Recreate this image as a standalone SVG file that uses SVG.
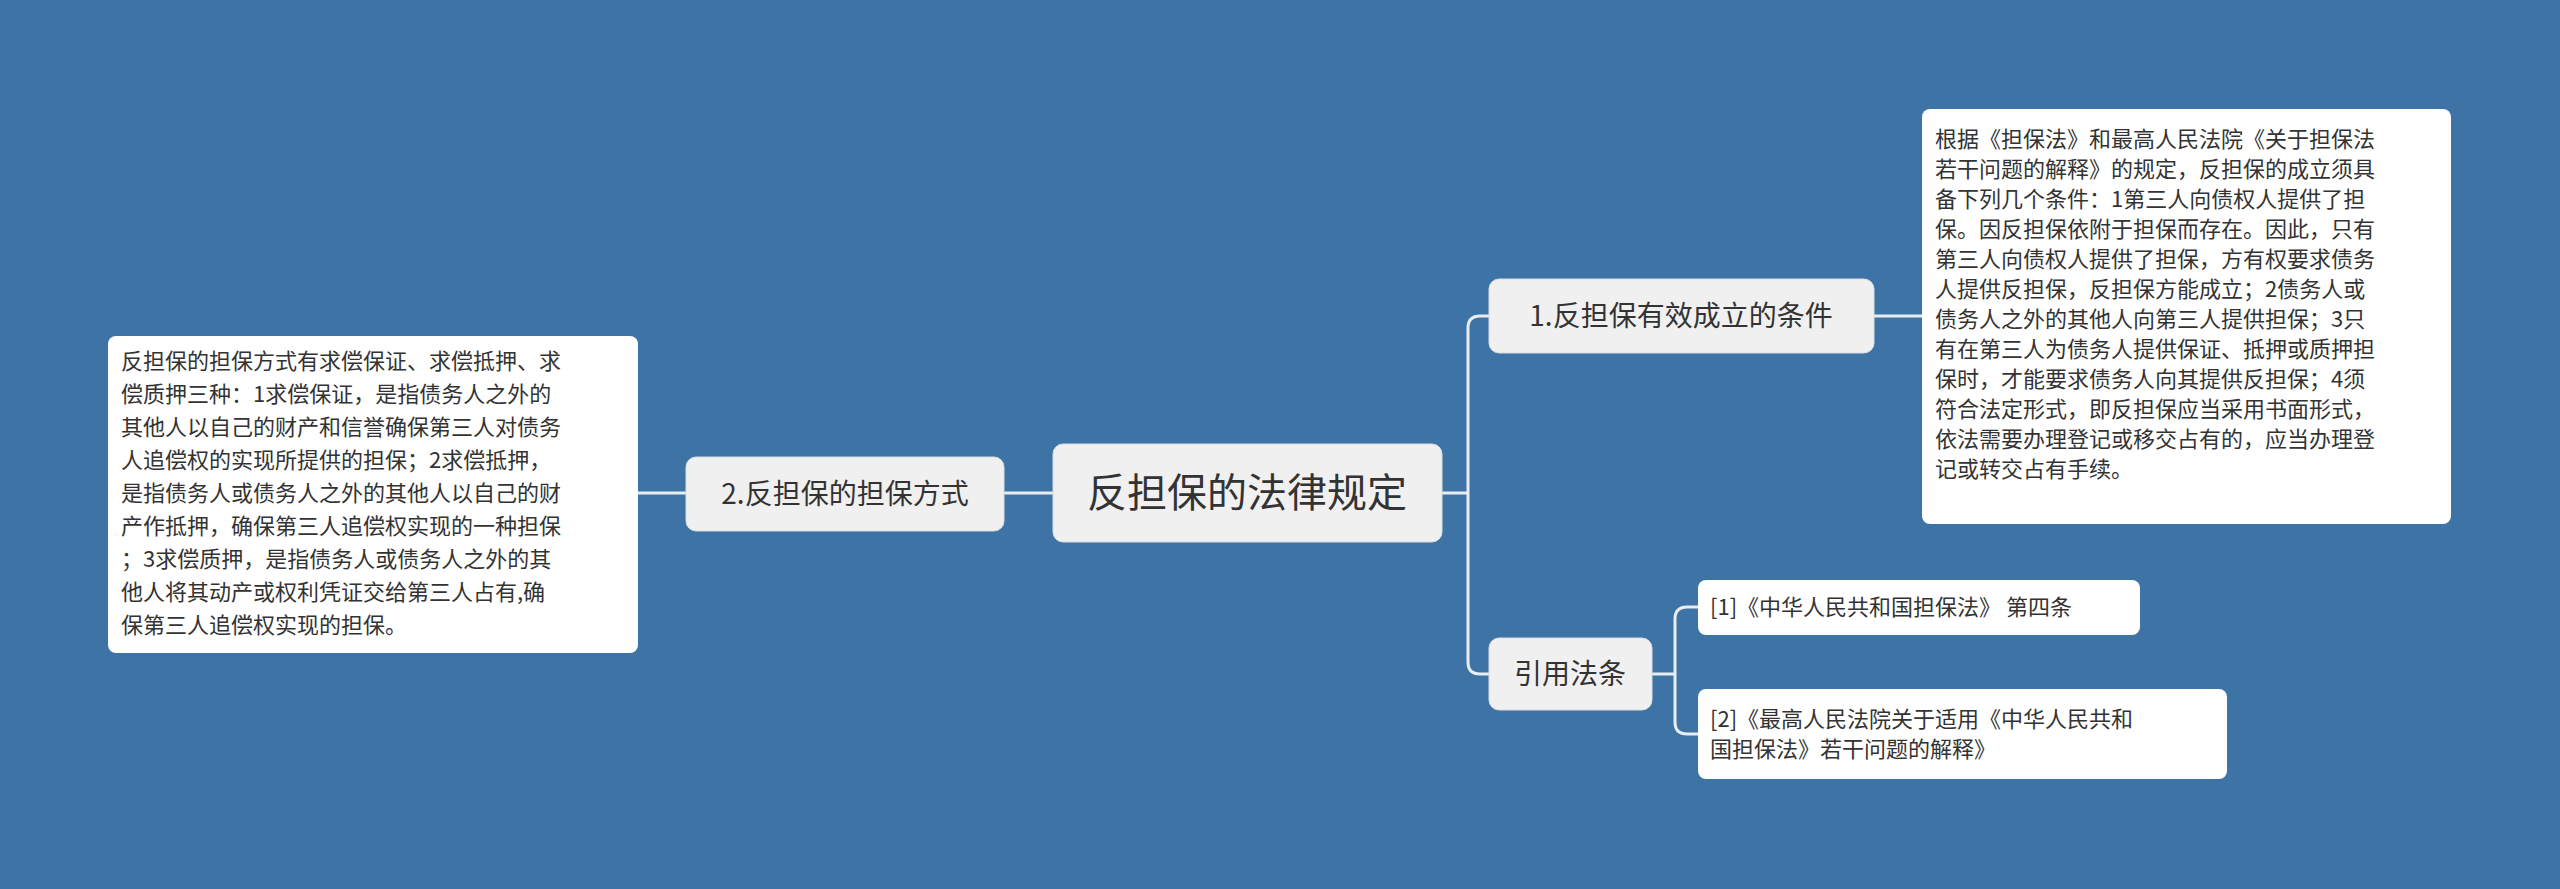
<svg xmlns="http://www.w3.org/2000/svg" width="2560" height="889" viewBox="0 0 2560 889">
<style>
text{font-family:"Noto Sans CJK SC","Noto Sans",sans-serif;fill:#333}
.n{fill:#f0f0f0;stroke:#d9dde2;stroke-width:1}
.l{fill:#fff}
.c{fill:none;stroke:#e8edf2;stroke-width:3}
.s{font-size:22px}
</style>
<rect width="2560" height="889" fill="#3d73a5"/>
<g id="connectors">
<path class="c" d="M1442 493H1468M1489 316H1480Q1468 316 1468 328V662Q1468 674 1480 674H1489"/>
<path class="c" d="M1874 316H1922"/>
<path class="c" d="M1652 674H1675M1698 607H1687Q1675 607 1675 619V722Q1675 734 1687 734H1698"/>
<path class="c" d="M1053 493H1004M686 493H638"/>
</g>
<g id="root"><rect class="n" x="1053" y="444" width="389" height="98" rx="10"/><text x="1247" y="507" font-size="40" text-anchor="middle">反担保的法律规定</text></g>
<g id="n2"><rect class="n" x="686" y="457" width="318" height="74" rx="10"/><text x="845" y="504" font-size="28" text-anchor="middle">2.反担保的担保方式</text></g>
<g id="n2t"><rect class="l" x="108" y="336" width="530" height="317" rx="8"/>
<text class="s" x="121" y="369"><tspan x="121">反担保的担保方式有求偿保证、求偿抵押、求</tspan><tspan x="121" dy="33">偿质押三种：1求偿保证，是指债务人之外的</tspan><tspan x="121" dy="33">其他人以自己的财产和信誉确保第三人对债务</tspan><tspan x="121" dy="33">人追偿权的实现所提供的担保；2求偿抵押，</tspan><tspan x="121" dy="33">是指债务人或债务人之外的其他人以自己的财</tspan><tspan x="121" dy="33">产作抵押，确保第三人追偿权实现的一种担保</tspan><tspan x="121" dy="33">；3求偿质押，是指债务人或债务人之外的其</tspan><tspan x="121" dy="33">他人将其动产或权利凭证交给第三人占有,确</tspan><tspan x="121" dy="33">保第三人追偿权实现的担保。</tspan></text></g>
<g id="n1"><rect class="n" x="1489" y="279" width="385" height="74" rx="10"/><text x="1681" y="326" font-size="28" text-anchor="middle">1.反担保有效成立的条件</text></g>
<g id="n1t"><rect class="l" x="1922" y="109" width="529" height="415" rx="8"/>
<text class="s" x="1935" y="147"><tspan x="1935">根据《担保法》和最高人民法院《关于担保法</tspan><tspan x="1935" dy="30">若干问题的解释》的规定，反担保的成立须具</tspan><tspan x="1935" dy="30">备下列几个条件：1第三人向债权人提供了担</tspan><tspan x="1935" dy="30">保。因反担保依附于担保而存在。因此，只有</tspan><tspan x="1935" dy="30">第三人向债权人提供了担保，方有权要求债务</tspan><tspan x="1935" dy="30">人提供反担保，反担保方能成立；2债务人或</tspan><tspan x="1935" dy="30">债务人之外的其他人向第三人提供担保；3只</tspan><tspan x="1935" dy="30">有在第三人为债务人提供保证、抵押或质押担</tspan><tspan x="1935" dy="30">保时，才能要求债务人向其提供反担保；4须</tspan><tspan x="1935" dy="30">符合法定形式，即反担保应当采用书面形式，</tspan><tspan x="1935" dy="30">依法需要办理登记或移交占有的，应当办理登</tspan><tspan x="1935" dy="30">记或转交占有手续。</tspan></text></g>
<g id="n3"><rect class="n" x="1489" y="638" width="163" height="72" rx="10"/><text x="1570" y="684" font-size="28" text-anchor="middle">引用法条</text></g>
<g id="r1"><rect class="l" x="1698" y="580" width="442" height="55" rx="8"/><text class="s" x="1710" y="615">[1]《中华人民共和国担保法》 第四条</text></g>
<g id="r2"><rect class="l" x="1698" y="689" width="529" height="90" rx="8"/><text class="s" x="1710" y="727"><tspan x="1710">[2]《最高人民法院关于适用《中华人民共和</tspan><tspan x="1710" dy="30">国担保法》若干问题的解释》</tspan></text></g>
</svg>
